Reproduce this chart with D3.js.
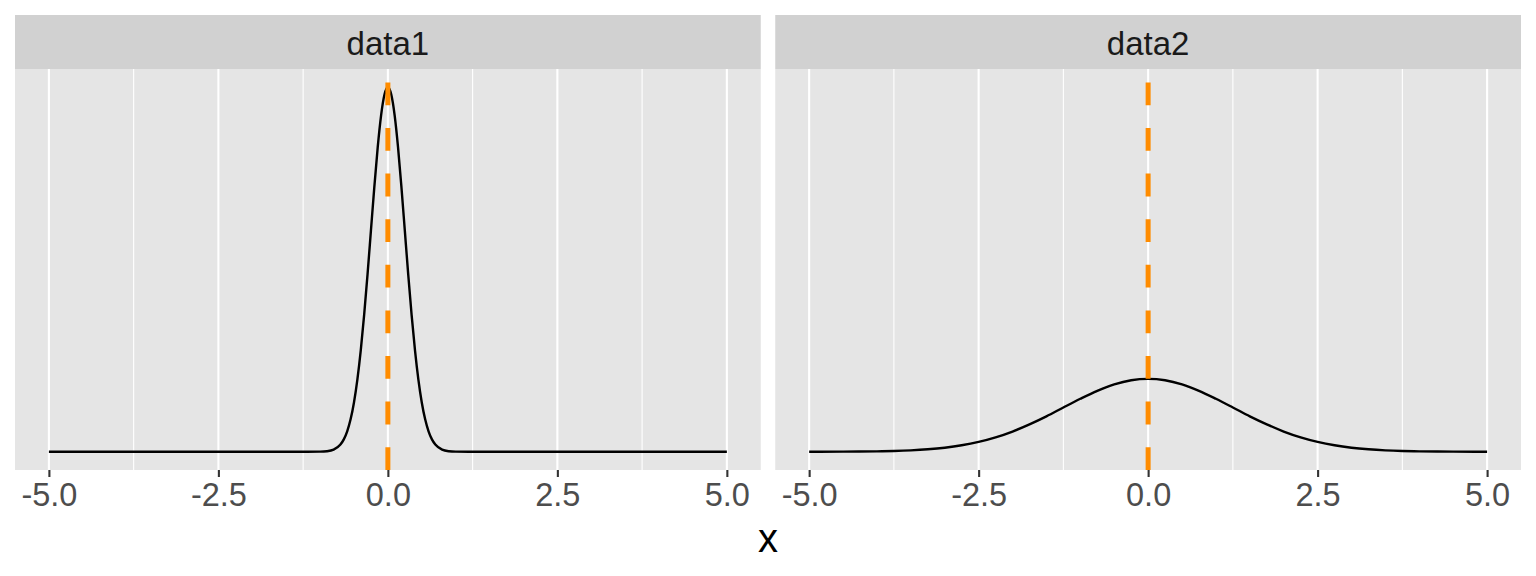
<!DOCTYPE html>
<html>
<head>
<meta charset="utf-8">
<script src="https://cdn.jsdelivr.net/npm/d3@7"></script>
<style>
  html, body { margin: 0; padding: 0; background: #ffffff; }
  svg { display: block; }
  text { font-family: "Liberation Sans", Arial, Helvetica, sans-serif; }
</style>
</head>
<body>
<svg id="chart" width="1536" height="576"></svg>
<script>
// ---------- data ----------
const panels = ["data1", "data2"];
const xTicks = [-5.0, -2.5, 0.0, 2.5, 5.0];
const xMinorTicks = [-3.75, -1.25, 1.25, 3.75];
const xTickLabels = ["-5.0", "-2.5", "0.0", "2.5", "5.0"];
const vlineX = [0, 0];

const data1X = [-5.0, -1.5, -1.2, -1.0, -0.9, -0.8, -0.7, -0.65, -0.6, -0.55, -0.5, -0.45, -0.4, -0.35, -0.3, -0.25, -0.2, -0.15, -0.1, -0.05,
  0.0, 0.05, 0.1, 0.15, 0.2, 0.25, 0.3, 0.35, 0.4, 0.45, 0.5, 0.55, 0.6, 0.65, 0.7, 0.8, 0.9, 1.0, 1.2, 1.5, 5.0];
const data1Y = [0.0, 0.0, 0.0, 0.0005, 0.0024, 0.0095, 0.0317, 0.0543, 0.0896, 0.142, 0.216, 0.316, 0.444, 0.599, 0.777, 0.968, 1.159, 1.333, 1.473, 1.564,
  1.596, 1.564, 1.473, 1.333, 1.159, 0.968, 0.777, 0.599, 0.444, 0.316, 0.216, 0.142, 0.0896, 0.0543, 0.0317, 0.0095, 0.0024, 0.0005, 0.0, 0.0, 0.0];

const data2X = [-5.0, -4.5, -4.0, -3.75, -3.5, -3.25, -3.0, -2.75, -2.5, -2.25, -2.0, -1.75, -1.5, -1.25, -1.0, -0.75, -0.5, -0.25,
  0.0, 0.25, 0.5, 0.75, 1.0, 1.25, 1.5, 1.75, 2.0, 2.25, 2.5, 2.75, 3.0, 3.25, 3.5, 3.75, 4.0, 4.5, 5.0];
const data2Y = [0.0001, 0.0005, 0.0019, 0.0035, 0.0063, 0.0109, 0.0179, 0.0284, 0.0432, 0.0632, 0.0887, 0.120, 0.155, 0.194, 0.232, 0.267, 0.295, 0.313,
  0.319, 0.313, 0.295, 0.267, 0.232, 0.194, 0.155, 0.120, 0.0887, 0.0632, 0.0432, 0.0284, 0.0179, 0.0109, 0.0063, 0.0035, 0.0019, 0.0005, 0.0001];

const series = [
  { name: panels[0], xs: data1X, ys: data1Y },
  { name: panels[1], xs: data2X, ys: data2Y }
];

// ---------- layout ----------
const svg = d3.select("#chart");
const plotLeft = 15, plotRight = 1521, gap = 14.5;
const panelW = (plotRight - plotLeft - gap) / 2;
const stripTop = 15, stripH = 54;
const panelTop = stripTop + stripH, panelBottom = 470;

const yMax = d3.max(data1Y.concat(data2Y));
const y = d3.scaleLinear()
  .domain([-0.05 * yMax, 1.05 * yMax])
  .range([panelBottom, panelTop]);

series.forEach((s, i) => {
  const x0 = plotLeft + i * (panelW + gap);
  const x = d3.scaleLinear().domain([-5.5, 5.5]).range([x0, x0 + panelW]);
  const g = svg.append("g");

  // strip
  g.append("rect")
    .attr("x", x0).attr("y", stripTop)
    .attr("width", panelW).attr("height", stripH)
    .attr("fill", "#D1D1D1");
  g.append("text")
    .attr("x", x0 + panelW / 2).attr("y", stripTop + 40)
    .attr("text-anchor", "middle")
    .attr("font-size", 33)
    .attr("fill", "#1A1A1A")
    .text(s.name);

  // panel background
  g.append("rect")
    .attr("x", x0).attr("y", panelTop)
    .attr("width", panelW).attr("height", panelBottom - panelTop)
    .attr("fill", "#E5E5E5");

  // minor grid
  g.selectAll(".minor").data(xMinorTicks).enter().append("line")
    .attr("x1", d => x(d)).attr("x2", d => x(d))
    .attr("y1", panelTop).attr("y2", panelBottom)
    .attr("stroke", "#ffffff").attr("stroke-width", 1.1);
  // major grid
  g.selectAll(".major").data(xTicks).enter().append("line")
    .attr("x1", d => x(d)).attr("x2", d => x(d))
    .attr("y1", panelTop).attr("y2", panelBottom)
    .attr("stroke", "#ffffff").attr("stroke-width", 2.1);

  // density curve
  const pts = s.xs.map((v, k) => [v, s.ys[k]]);
  const line = d3.line()
    .x(d => x(d[0])).y(d => y(d[1]))
    .curve(d3.curveMonotoneX);
  g.append("path")
    .datum(pts)
    .attr("d", line)
    .attr("fill", "none")
    .attr("stroke", "#000000")
    .attr("stroke-width", 2.4)
    .attr("stroke-linejoin", "round");

  // dashed vertical line (drawn from bottom upward)
  g.append("line")
    .attr("x1", x(vlineX[i])).attr("x2", x(vlineX[i]))
    .attr("y1", panelBottom).attr("y2", panelTop)
    .attr("stroke", "#FF8C00")
    .attr("stroke-width", 5)
    .attr("stroke-dasharray", "22.8,22.8");

  // x axis
  const axis = d3.axisBottom(x)
    .tickValues(xTicks)
    .tickFormat((d, k) => xTickLabels[k])
    .tickSize(7)
    .tickPadding(6);
  const ag = g.append("g")
    .attr("transform", `translate(0,${panelBottom})`)
    .call(axis);
  ag.select(".domain").remove();
  ag.selectAll(".tick line").attr("stroke", "#333333").attr("stroke-width", 2.1);
  ag.selectAll(".tick text")
    .attr("fill", "#4D4D4D")
    .attr("font-size", 32.5)
    .attr("font-family", "Liberation Sans, Arial, sans-serif")
    .attr("dy", "0.71em");
});

// axis title
svg.append("text")
  .attr("x", (plotLeft + plotRight) / 2).attr("y", 552)
  .attr("text-anchor", "middle")
  .attr("font-size", 40)
  .attr("fill", "#000000")
  .text("x");
</script>
</body>
</html>
